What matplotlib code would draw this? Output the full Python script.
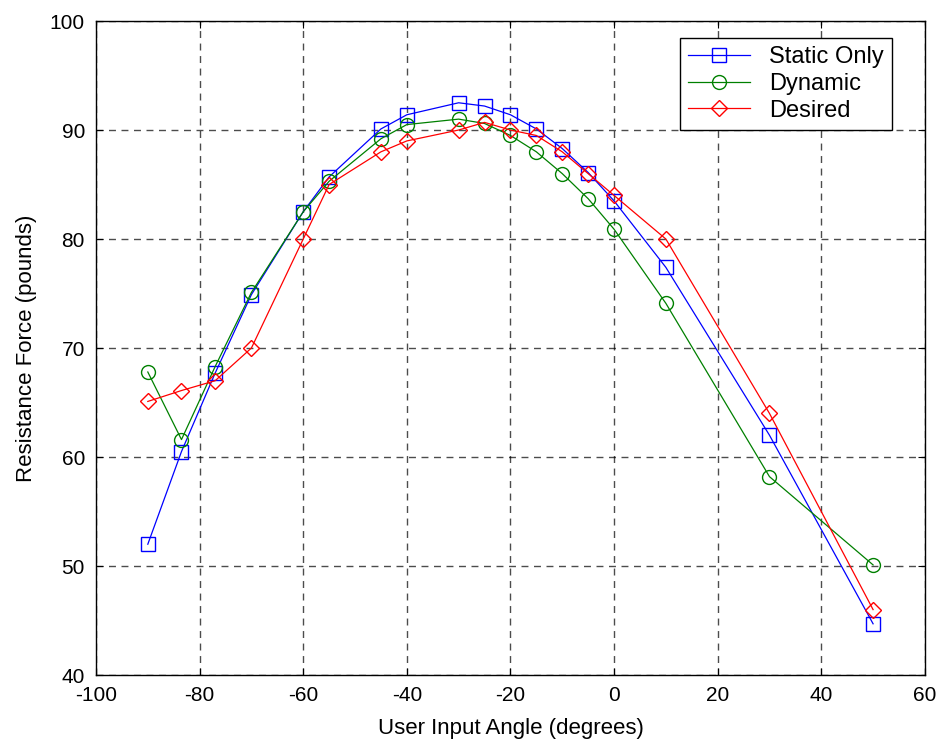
import matplotlib.pyplot as plt

plt.rcParams['font.family'] = ['Liberation Sans', 'DejaVu Sans']
plt.rcParams['axes.unicode_minus'] = False

# User input angle (degrees)
angle = [-90, -83.5, -77, -70, -60, -55, -45, -40, -30, -25, -20, -15, -10, -5, 0, 10, 30, 50]

# Resistance force (pounds)
static_only = [52.0, 60.5, 67.7, 74.9, 82.5, 85.7, 90.1, 91.4, 92.5, 92.2, 91.4, 90.1, 88.3, 86.1, 83.5, 77.4, 62.0, 44.7]
dynamic = [67.8, 61.6, 68.3, 75.1, 82.5, 85.3, 89.2, 90.5, 91.0, 90.6, 89.5, 88.0, 86.0, 83.7, 80.9, 74.1, 58.2, 50.1]
desired = [65.1, 66.1, 67.0, 70.0, 80.0, 85.0, 88.0, 89.0, 90.0, 90.7, 90.0, 89.5, 88.0, 86.0, 84.0, 80.0, 64.0, 46.0]

fig = plt.figure(figsize=(9.43, 7.43), dpi=100)
ax = fig.add_axes([0.1018, 0.0915, 0.879, 0.8802])

ax.plot(angle, static_only, color='blue', marker='s', markersize=10, markerfacecolor='none',
        linewidth=0.9, label='Static Only')
ax.plot(angle, dynamic, color='green', marker='o', markersize=10, markerfacecolor='none',
        linewidth=0.9, label='Dynamic')
ax.plot(angle, desired, color='red', marker='D', markersize=8, markerfacecolor='none',
        linewidth=0.9, label='Desired')

ax.set_xlim(-100, 60)
ax.set_ylim(40, 100)
ax.set_xticks(range(-100, 61, 20))
ax.set_yticks(range(40, 101, 10))
ax.grid(True, color='black', linestyle=(0, (5, 4)), linewidth=1.0, alpha=0.7)
ax.tick_params(direction='in', top=True, right=True, labelsize=15, length=5)
ax.tick_params(axis='x', pad=8)
ax.tick_params(axis='y', pad=8)
for s in ax.spines.values():
    s.set_linewidth(1.0)

ax.set_xlabel('User Input Angle (degrees)', fontsize=16, labelpad=9)
ax.set_ylabel('Resistance Force (pounds)', fontsize=16, labelpad=9)

leg = ax.legend(loc='upper right', bbox_to_anchor=(0.960, 0.974), borderaxespad=0, fontsize=17,
                fancybox=False, framealpha=1, edgecolor='black', borderpad=0.35,
                handlelength=2.6, handletextpad=0.8, labelspacing=0.2)
leg.get_frame().set_linewidth(1.0)

fig.savefig('out.png', dpi=100)
